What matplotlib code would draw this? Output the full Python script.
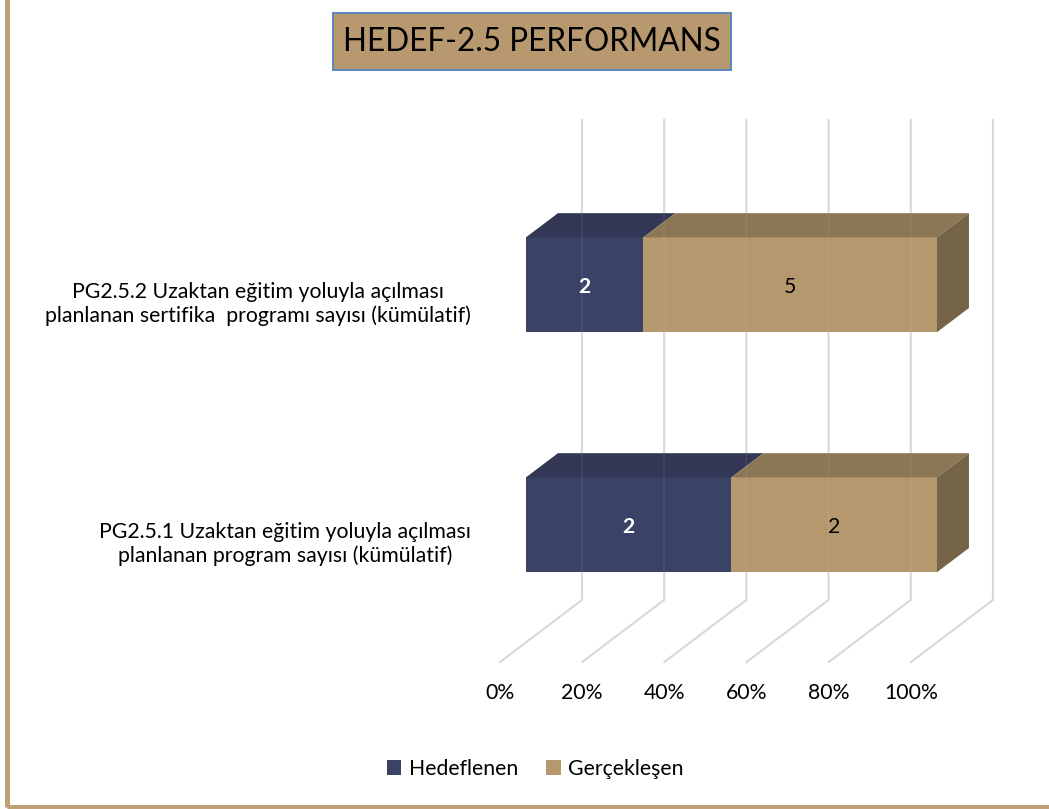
import matplotlib
matplotlib.use("Agg")
import matplotlib.pyplot as plt
from matplotlib.patches import Polygon, Rectangle, Patch

plt.rcParams['font.family'] = ['Lato', 'DejaVu Sans']

# data
title = "HEDEF-2.5 PERFORMANS"
categories = ["PG2.5.1 Uzaktan eğitim yoluyla açılması\nplanlanan program sayısı (kümülatif)",
              "PG2.5.2 Uzaktan eğitim yoluyla açılması\nplanlanan sertifika  programı sayısı (kümülatif)"]
series_names = ["Hedeflenen", "Gerçekleşen"]
hedeflenen = [2, 2]
gerceklesen = [2, 5]
xticks = [0, 20, 40, 60, 80, 100]

# colours: front / top / side
front_c = ["#3A4266", "#B5986E"]
top_c = ["#333755", "#8B7656"]
side_c = ["#2C3049", "#766448"]
label_c = ["white", "black"]
label_w = ["bold", "normal"]

# oblique 3D look: depth vector and wall height (axis units)
DX, DY = 19.95, 15.09
H = 116.8
Z0, Z1 = 0.317, 0.707
bar_frac = 0.395
FS = 15.3


def proj(x, y, z):
    return (x + z * DX, y + z * DY)


fig = plt.figure(figsize=(10.49, 8.09), dpi=100)
ax = fig.add_axes([0, 0, 1, 1])
ax.set_xlim(-121.65, 133.58)
ax.set_ylim(-35.77, 161.07)
ax.axis('off')

# grid: back wall verticals + floor diagonals
for t in xticks:
    xs, ys = zip(proj(t, 0, 0), proj(t, 0, 1), proj(t, H, 1))
    ax.plot(xs, ys, color="#D9D9D9", lw=1.5, zorder=1, solid_joinstyle='miter')
    # faint see-through on the bars
    ax.plot(xs, ys, color="#D9D9D9", lw=1.5, alpha=0.08, zorder=4, solid_joinstyle='miter')
    ax.text(t, -7.6, f"{t}%", ha='center', va='center', fontsize=FS, color="#000000")

band = H / len(categories)
for i, cat in enumerate(categories):
    vals = [hedeflenen[i], gerceklesen[i]]
    total = sum(vals)
    yc = (i + 0.5) * band - 0.6
    y0, y1 = yc - bar_frac * band / 2, yc + bar_frac * band / 2
    left = 0
    for k, v in enumerate(vals):
        r = left + v / total * 100
        fr = [proj(left, y0, Z0), proj(r, y0, Z0), proj(r, y1, Z0), proj(left, y1, Z0)]
        tp = [proj(left, y1, Z0), proj(r, y1, Z0), proj(r, y1, Z1), proj(left, y1, Z1)]
        ax.add_patch(Polygon(fr, closed=True, fc=front_c[k], ec="none", zorder=3))
        ax.add_patch(Polygon(tp, closed=True, fc=top_c[k], ec="none", zorder=3))
        if k == len(vals) - 1:
            sd = [proj(r, y0, Z0), proj(r, y0, Z1), proj(r, y1, Z1), proj(r, y1, Z0)]
            ax.add_patch(Polygon(sd, closed=True, fc=side_c[k], ec="none", zorder=3))
        cx, cy = proj((left + r) / 2, yc, Z0)
        ax.text(cx, cy - 0.6, str(v), ha='center', va='center', fontsize=FS,
                color=label_c[k], fontweight=label_w[k], zorder=5)
        left = r
    ax.text(-7.0, yc, cat, ha='right', va='center', multialignment='center',
            fontsize=FS, linespacing=1.2)

# title box
fig.patches.append(Rectangle((333 / 1049, 1 - 70 / 809), 398 / 1049, 57 / 809,
                             transform=fig.transFigure, fc="#B8996F", ec="#4F81BD", lw=1.3))
fig.text(532 / 1049, 1 - 42 / 809, title, ha='center', va='center', fontsize=22.7)

# outer border
fig.patches.append(Rectangle((6.5 / 1049, 1 - 806.5 / 809), 1.01, 806.5 / 809 + 0.01,
                             transform=fig.transFigure, fill=False, ec="#C0A076", lw=3.6))

handles = [Patch(fc=front_c[k], ec="none", label=series_names[k]) for k in range(2)]
fig.legend(handles=handles, loc='center', bbox_to_anchor=(535 / 1049, 1 - 769 / 809), ncol=2,
           frameon=False, fontsize=FS, handlelength=0.7, handleheight=0.7,
           handletextpad=0.35, columnspacing=1.3)

fig.savefig("out.png", dpi=100)
